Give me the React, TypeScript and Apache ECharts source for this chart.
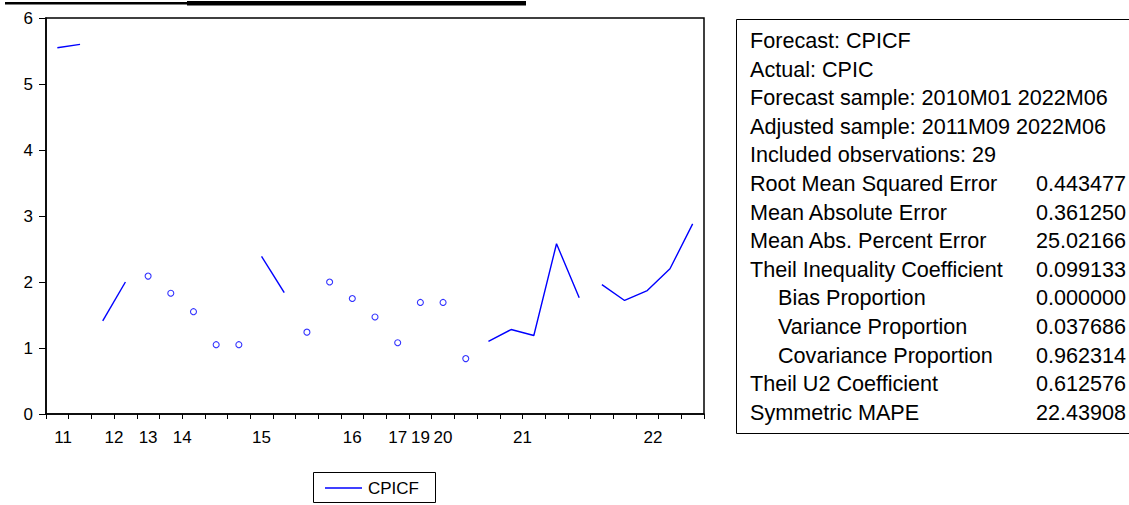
import React, { useEffect, useRef } from "react";
import * as echarts from "echarts";

// Forecast values (CPICF), one per included observation (29)
const obsValues = [
  5.55, 5.6, 1.41, 2.0, 2.09, 1.83, 1.55, 1.05, 1.05, 2.39, 1.84, 1.24, 2.0, 1.75, 1.47,
  1.08, 1.69, 1.69, 0.84, 1.1, 1.28, 1.19, 2.58, 1.76, 1.96, 1.72, 1.87, 2.2, 2.88,
];
// Runs of consecutive dates (a line is drawn only inside a run)
const runIds = [
  0, 0, 1, 1, 2, 3, 4, 5, 6, 7, 7, 8, 9, 10, 11, 12, 13, 14, 15, 16, 16, 16, 16, 16, 17, 17,
  17, 17, 17,
];
// Year tick labels and where they sit (observation index units)
const yearLabels = ["11", "12", "13", "14", "15", "16", "17", "19", "20", "21", "22"];
const yearLabelPos = [0.25, 2.5, 4, 5.5, 9, 13, 15, 16, 17, 20.5, 26.25];

const seriesName = "CPICF";

// Forecast evaluation table
const statLabels = [
  "Forecast: CPICF",
  "Actual: CPIC",
  "Forecast sample: 2010M01 2022M06",
  "Adjusted sample: 2011M09 2022M06",
  "Included observations: 29",
  "Root Mean Squared Error",
  "Mean Absolute Error",
  "Mean Abs. Percent Error",
  "Theil Inequality Coefficient",
  "Bias Proportion",
  "Variance Proportion",
  "Covariance Proportion",
  "Theil U2 Coefficient",
  "Symmetric MAPE",
];
const statValues = [
  "", "", "", "", "",
  "0.443477", "0.361250", "25.02166", "0.099133", "0.000000", "0.037686", "0.962314",
  "0.612576", "22.43908",
];
const statIndented = [
  false, false, false, false, false, false, false, false, false, true, true, true, false, false,
];

const FONT = "'Liberation Sans', Arial, Helvetica, sans-serif";
const BLUE = "#0000ff";

export default function App() {
  const ref = useRef<HTMLDivElement>(null);

  useEffect(() => {
    if (!ref.current) return;
    const chart = echarts.init(ref.current, null, { renderer: "svg" });

    // group observations into runs
    const runs: number[][] = [];
    runIds.forEach((r, i) => {
      if (i === 0 || runIds[i - 1] !== r) runs.push([i]);
      else runs[runs.length - 1].push(i);
    });

    const series: any[] = runs.map((idx) =>
      idx.length > 1
        ? {
            type: "line",
            name: seriesName,
            xAxisIndex: 0,
            yAxisIndex: 0,
            data: idx.map((i) => [i, obsValues[i]]),
            symbol: "none",
            lineStyle: { color: BLUE, width: 1.4 },
            silent: true,
          }
        : {
            type: "scatter",
            name: seriesName,
            xAxisIndex: 0,
            yAxisIndex: 0,
            data: idx.map((i) => [i, obsValues[i]]),
            symbol: "circle",
            symbolSize: 6,
            itemStyle: { color: "#ffffff", borderColor: BLUE, borderWidth: 1.1 },
            silent: true,
          }
    );

    const graphics: any[] = [
      // cropped title underline at the very top
      { type: "rect", shape: { x: 5, y: 2, width: 182, height: 2.5 }, style: { fill: "#000" } },
      { type: "rect", shape: { x: 187, y: 1, width: 339, height: 4.5 }, style: { fill: "#000" } },
      // stats box
      {
        type: "rect",
        shape: { x: 736.5, y: 19.5, width: 420, height: 414 },
        style: { fill: "none", stroke: "#000", lineWidth: 1 },
      },
      // legend
      {
        type: "rect",
        shape: { x: 313.5, y: 472.5, width: 122, height: 30 },
        style: { fill: "#fff", stroke: "#000", lineWidth: 1 },
      },
      {
        type: "line",
        shape: { x1: 325, y1: 488, x2: 362, y2: 488 },
        style: { stroke: BLUE, lineWidth: 1.3 },
      },
      {
        type: "text",
        x: 368,
        y: 488,
        style: {
          text: seriesName,
          font: `17px ${FONT}`,
          fill: "#000",
          textVerticalAlign: "middle",
          textAlign: "left",
        },
      },
    ];

    statLabels.forEach((lab, k) => {
      const y = 40.5 + k * 28.6;
      graphics.push({
        type: "text",
        x: statIndented[k] ? 778 : 750,
        y,
        style: {
          text: lab,
          font: `21.6px ${FONT}`,
          fill: "#000",
          textAlign: "left",
          textVerticalAlign: "middle",
        },
      });
      if (statValues[k]) {
        graphics.push({
          type: "text",
          x: 1126,
          y,
          style: {
            text: statValues[k],
            font: `21.6px ${FONT}`,
            fill: "#000",
            textAlign: "right",
            textVerticalAlign: "middle",
          },
        });
      }
    });

    const labelFor = (v: number) => {
      const k = yearLabelPos.findIndex((p) => Math.abs(p - v) < 1e-6);
      return k >= 0 ? yearLabels[k] : "";
    };

    chart.setOption({
      animation: false,
      backgroundColor: "#ffffff",
      textStyle: { fontFamily: FONT },
      grid: {
        left: 46,
        right: 425,
        top: 18,
        bottom: 91,
        show: true,
        borderColor: "#000",
        borderWidth: 1.5,
        containLabel: false,
      },
      xAxis: [
        {
          type: "value",
          min: -0.5,
          max: 28.5,
          interval: 1,
          position: "bottom",
          axisLine: { show: true, onZero: false, lineStyle: { color: "#000", width: 1.5 } },
          axisTick: { show: true, inside: false, length: 5, lineStyle: { color: "#000", width: 1 } },
          axisLabel: { show: false },
          splitLine: { show: false },
        },
        {
          type: "value",
          min: -0.5,
          max: 28.5,
          interval: 0.25,
          position: "bottom",
          axisLine: { show: false, onZero: false },
          axisTick: { show: false },
          splitLine: { show: false },
          axisLabel: {
            show: true,
            margin: 15,
            fontSize: 17,
            color: "#000",
            fontFamily: FONT,
            formatter: (v: number) => labelFor(v),
          },
        },
      ],
      yAxis: {
        type: "value",
        min: 0,
        max: 6,
        interval: 1,
        axisLine: { show: true, onZero: false, lineStyle: { color: "#000", width: 1.5 } },
        axisTick: { show: true, length: 7, lineStyle: { color: "#000", width: 1 } },
        axisLabel: { fontSize: 17, color: "#000", margin: 13, fontFamily: FONT },
        splitLine: { show: false },
      },
      series,
      graphic: graphics,
    });

    return () => chart.dispose();
  }, []);

  return (
    <div
      ref={ref}
      style={{ position: "fixed", left: 0, top: 0, width: 1129, height: 505, background: "#fff" }}
    />
  );
}
